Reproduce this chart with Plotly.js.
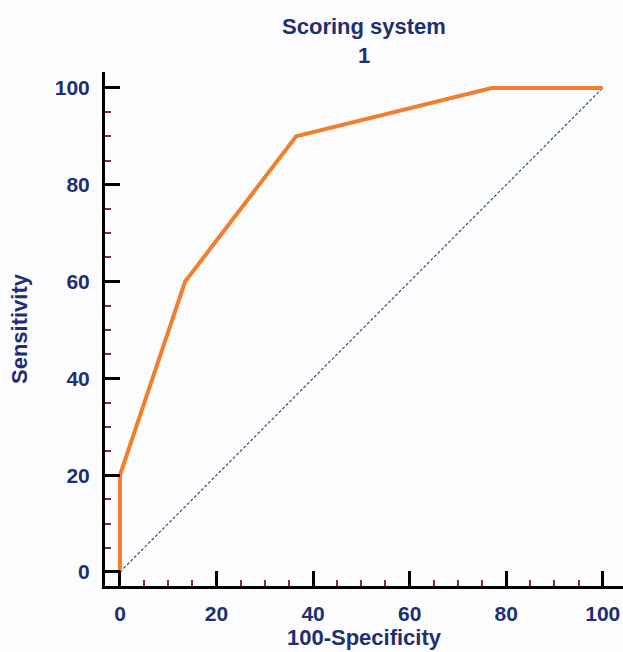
<!DOCTYPE html>
<html>
<head>
<meta charset="utf-8">
<script src="https://cdn.plot.ly/plotly-3.0.1.min.js"></script>
<style>html,body{margin:0;padding:0;background:#fcfcfe;}#chart{width:623px;height:652px;}</style>
</head>
<body>
<div id="chart"></div>
<script>
const rocX = [0, 0, 13.5, 36.5, 77, 100];
const rocY = [0, 20, 60, 90, 100, 100];
const refX = [0, 100];
const refY = [0, 100];
const tickVals = [0, 20, 40, 60, 80, 100];
const tickText = ['0', '20', '40', '60', '80', '100'];

const navy = '#1e2f72';
const fontFam = 'Liberation Sans, Arial, sans-serif';

const traces = [
  {x: refX, y: refY, mode: 'lines', line: {color: '#2f5868', width: 1.2, dash: '3px,2px'}, hoverinfo: 'skip'},
  {x: rocX, y: rocY, mode: 'lines', line: {color: '#f07f30', width: 4}}
];

const axisCommon = {
  showgrid: false, zeroline: false, showline: true, linecolor: '#000', linewidth: 3,
  ticks: 'inside', ticklen: 15, tickwidth: 3, tickcolor: '#000',
  tickvals: tickVals, ticktext: tickText,
  tickfont: {family: fontFam, size: 21, color: navy, weight: 'bold'},
  minor: {dtick: 5, ticks: 'inside', ticklen: 6, tickwidth: 2, tickcolor: '#7a3526', showgrid: false},
  fixedrange: true
};

const layout = {
  width: 623, height: 652,
  paper_bgcolor: '#fcfcfe', plot_bgcolor: '#fcfcfe',
  showlegend: false,
  margin: {l: 105, r: 0, t: 72, b: 66},
  title: {text: 'Scoring system<br>1', x: 0.5, xref: 'paper', y: 0.948, yanchor: 'top',
          font: {family: fontFam, size: 22, color: navy, weight: 'bold'}},
  xaxis: Object.assign({}, axisCommon, {
    range: [-3.1, 104.2], ticklabelstandoff: 7,
    title: {text: '100-Specificity', standoff: 6, font: {family: fontFam, size: 22, color: navy, weight: 'bold'}}
  }),
  yaxis: Object.assign({}, axisCommon, {
    range: [-2.9, 103.3], ticklabelstandoff: 8,
    title: {text: 'Sensitivity', standoff: 22, font: {family: fontFam, size: 22, color: navy, weight: 'bold'}}
  })
};

Plotly.newPlot('chart', traces, layout, {displayModeBar: false, staticPlot: true});
</script>
</body>
</html>
